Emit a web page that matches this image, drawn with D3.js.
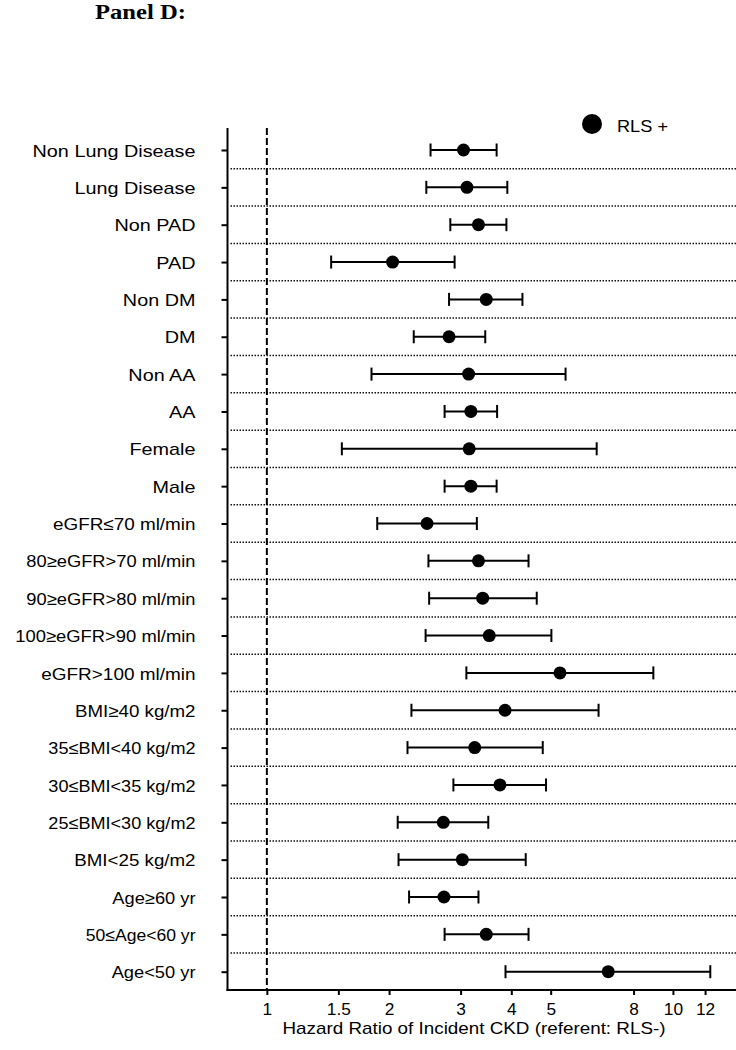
<!DOCTYPE html>
<html>
<head>
<meta charset="utf-8">
<script src="https://cdn.jsdelivr.net/npm/d3@7"></script>
<style>
  html, body { margin: 0; padding: 0; background: #fff; }
  svg { display: block; }
</style>
</head>
<body>
<svg id="chart" width="736" height="1050"></svg>
<script>
// ---------------- data ----------------
const categories = [
  "Non Lung Disease", "Lung Disease", "Non PAD", "PAD", "Non DM", "DM",
  "Non AA", "AA", "Female", "Male",
  "eGFR≤70 ml/min", "80≥eGFR>70 ml/min", "90≥eGFR>80 ml/min",
  "100≥eGFR>90 ml/min", "eGFR>100 ml/min",
  "BMI≥40 kg/m2", "35≤BMI<40 kg/m2", "30≤BMI<35 kg/m2", "25≤BMI<30 kg/m2",
  "BMI<25 kg/m2", "Age≥60 yr", "50≤Age<60 yr", "Age<50 yr"
];
const hr    = [3.05, 3.11, 3.32, 2.04, 3.47, 2.81, 3.14, 3.18, 3.15, 3.18,
               2.48, 3.32, 3.40, 3.53, 5.27, 3.86, 3.25, 3.75, 2.72, 3.03,
               2.73, 3.47, 6.93];
const lower = [2.53, 2.47, 2.83, 1.44, 2.81, 2.30, 1.81, 2.74, 1.53, 2.74,
               1.87, 2.50, 2.51, 2.46, 3.10, 2.27, 2.22, 2.88, 2.10, 2.11,
               2.24, 2.74, 3.87];
const upper = [3.68, 3.91, 3.89, 2.90, 4.26, 3.45, 5.44, 3.69, 6.49, 3.68,
               3.29, 4.41, 4.62, 5.02, 8.95, 6.56, 4.78, 4.87, 3.51, 4.34,
               3.32, 4.41, 12.36];
const xTicks = [1, 1.5, 2, 3, 4, 5, 8, 10, 12];
const xDomain = [0.8, 14.3];
const refValue = 1;
const seriesName = "RLS +";
const xTitle = "Hazard Ratio of Incident CKD (referent: RLS-)";
const panelTitle = "Panel D:";

const rows = categories.map((c, i) => ({ cat: c, hr: hr[i], lo: lower[i], hi: upper[i] }));

// ---------------- layout ----------------
const svg = d3.select("#chart");
const plotLeft = 227.5, plotRight = 736, plotTop = 128, plotBottom = 990;
const firstRow = 150, lastRow = 971.7;
const SANS = "'Liberation Sans', Arial, Helvetica, sans-serif";

function fitWidth(sel, target) {
  sel.attr("textLength", target).attr("lengthAdjust", "spacingAndGlyphs");
}
function stretch(sel, k) {
  sel.each(function () {
    const len = this.getComputedTextLength();
    d3.select(this).attr("textLength", len * k).attr("lengthAdjust", "spacingAndGlyphs");
  });
}
// labels: comparison symbols are narrower in the reference font
function stretchLabel(sel, k, symbolShrink) {
  sel.each(function () {
    const t = d3.select(this).text();
    const n = (t.match(/[<>≤≥]/g) || []).length;
    const len = this.getComputedTextLength();
    d3.select(this).attr("textLength", len * k - n * symbolShrink).attr("lengthAdjust", "spacingAndGlyphs");
  });
}

const x = d3.scaleLog().domain(xDomain).range([plotLeft, plotRight]);
const y = d3.scalePoint().domain(categories).range([firstRow, lastRow]);
const step = y.step();

// title
svg.append("text")
  .attr("x", 95).attr("y", 19)
  .attr("font-family", "'Liberation Serif', 'Times New Roman', serif")
  .attr("font-weight", "bold").attr("font-size", 21)
  .text(panelTitle)
  .call(fitWidth, 91);

// dotted separators between rows
svg.append("g").selectAll("line")
  .data(categories.slice(0, -1))
  .join("line")
  .attr("x1", plotLeft + 3).attr("x2", plotRight)
  .attr("y1", d => y(d) + step / 2).attr("y2", d => y(d) + step / 2)
  .attr("stroke", "#111").attr("stroke-width", 1.5)
  .attr("stroke-dasharray", "1.5,1.5");

// reference dashed line
svg.append("line")
  .attr("x1", x(refValue)).attr("x2", x(refValue))
  .attr("y1", plotTop).attr("y2", plotBottom)
  .attr("stroke", "#000").attr("stroke-width", 2)
  .attr("stroke-dasharray", "7,3");

// y axis
const yAxis = svg.append("g")
  .attr("transform", `translate(${plotLeft},0)`)
  .call(d3.axisLeft(y).tickSize(6).tickPadding(26).tickSizeOuter(0));
yAxis.select(".domain").remove();
yAxis.selectAll(".tick line").attr("stroke", "#000").attr("stroke-width", 2);
yAxis.selectAll(".tick text")
  .attr("font-family", SANS).attr("font-size", 17).attr("fill", "#000")
  .attr("dy", "0.36em")
  .call(stretchLabel, 1.165, 7);
svg.append("line")
  .attr("x1", plotLeft).attr("x2", plotLeft).attr("y1", plotTop).attr("y2", plotBottom + 1)
  .attr("stroke", "#000").attr("stroke-width", 2);

// x axis
const xAxis = svg.append("g")
  .attr("transform", `translate(0,${plotBottom})`)
  .call(d3.axisBottom(x).tickValues(xTicks).tickFormat(d3.format("")).tickSize(5).tickPadding(9).tickSizeOuter(0));
xAxis.select(".domain").remove();
xAxis.selectAll(".tick line").attr("stroke", "#000").attr("stroke-width", 2);
xAxis.selectAll(".tick text")
  .attr("font-family", SANS).attr("font-size", 16).attr("fill", "#000")
  .call(stretch, 1.08);
svg.append("line")
  .attr("x1", plotLeft - 1).attr("x2", plotRight).attr("y1", plotBottom).attr("y2", plotBottom)
  .attr("stroke", "#000").attr("stroke-width", 2);

svg.append("text")
  .attr("x", 474).attr("y", 1034)
  .attr("text-anchor", "middle")
  .attr("font-family", SANS).attr("font-size", 17)
  .text(xTitle)
  .call(fitWidth, 383);

// error bars
const g = svg.append("g");
const capH = 6.5;
g.selectAll("line.ci").data(rows).join("line").attr("class", "ci")
  .attr("x1", d => x(d.lo)).attr("x2", d => x(d.hi))
  .attr("y1", d => y(d.cat)).attr("y2", d => y(d.cat))
  .attr("stroke", "#000").attr("stroke-width", 2);
g.selectAll("line.capl").data(rows).join("line").attr("class", "capl")
  .attr("x1", d => x(d.lo)).attr("x2", d => x(d.lo))
  .attr("y1", d => y(d.cat) - capH).attr("y2", d => y(d.cat) + capH)
  .attr("stroke", "#000").attr("stroke-width", 2);
g.selectAll("line.caph").data(rows).join("line").attr("class", "caph")
  .attr("x1", d => x(d.hi)).attr("x2", d => x(d.hi))
  .attr("y1", d => y(d.cat) - capH).attr("y2", d => y(d.cat) + capH)
  .attr("stroke", "#000").attr("stroke-width", 2);
g.selectAll("circle").data(rows).join("circle")
  .attr("cx", d => x(d.hr)).attr("cy", d => y(d.cat)).attr("r", 6.5)
  .attr("fill", "#000");

// legend
svg.append("circle").attr("cx", 592).attr("cy", 124).attr("r", 10).attr("fill", "#000");
svg.append("text")
  .attr("x", 617).attr("y", 131.5)
  .attr("font-family", SANS).attr("font-size", 17)
  .text(seriesName)
  .call(fitWidth, 51);
</script>
</body>
</html>
